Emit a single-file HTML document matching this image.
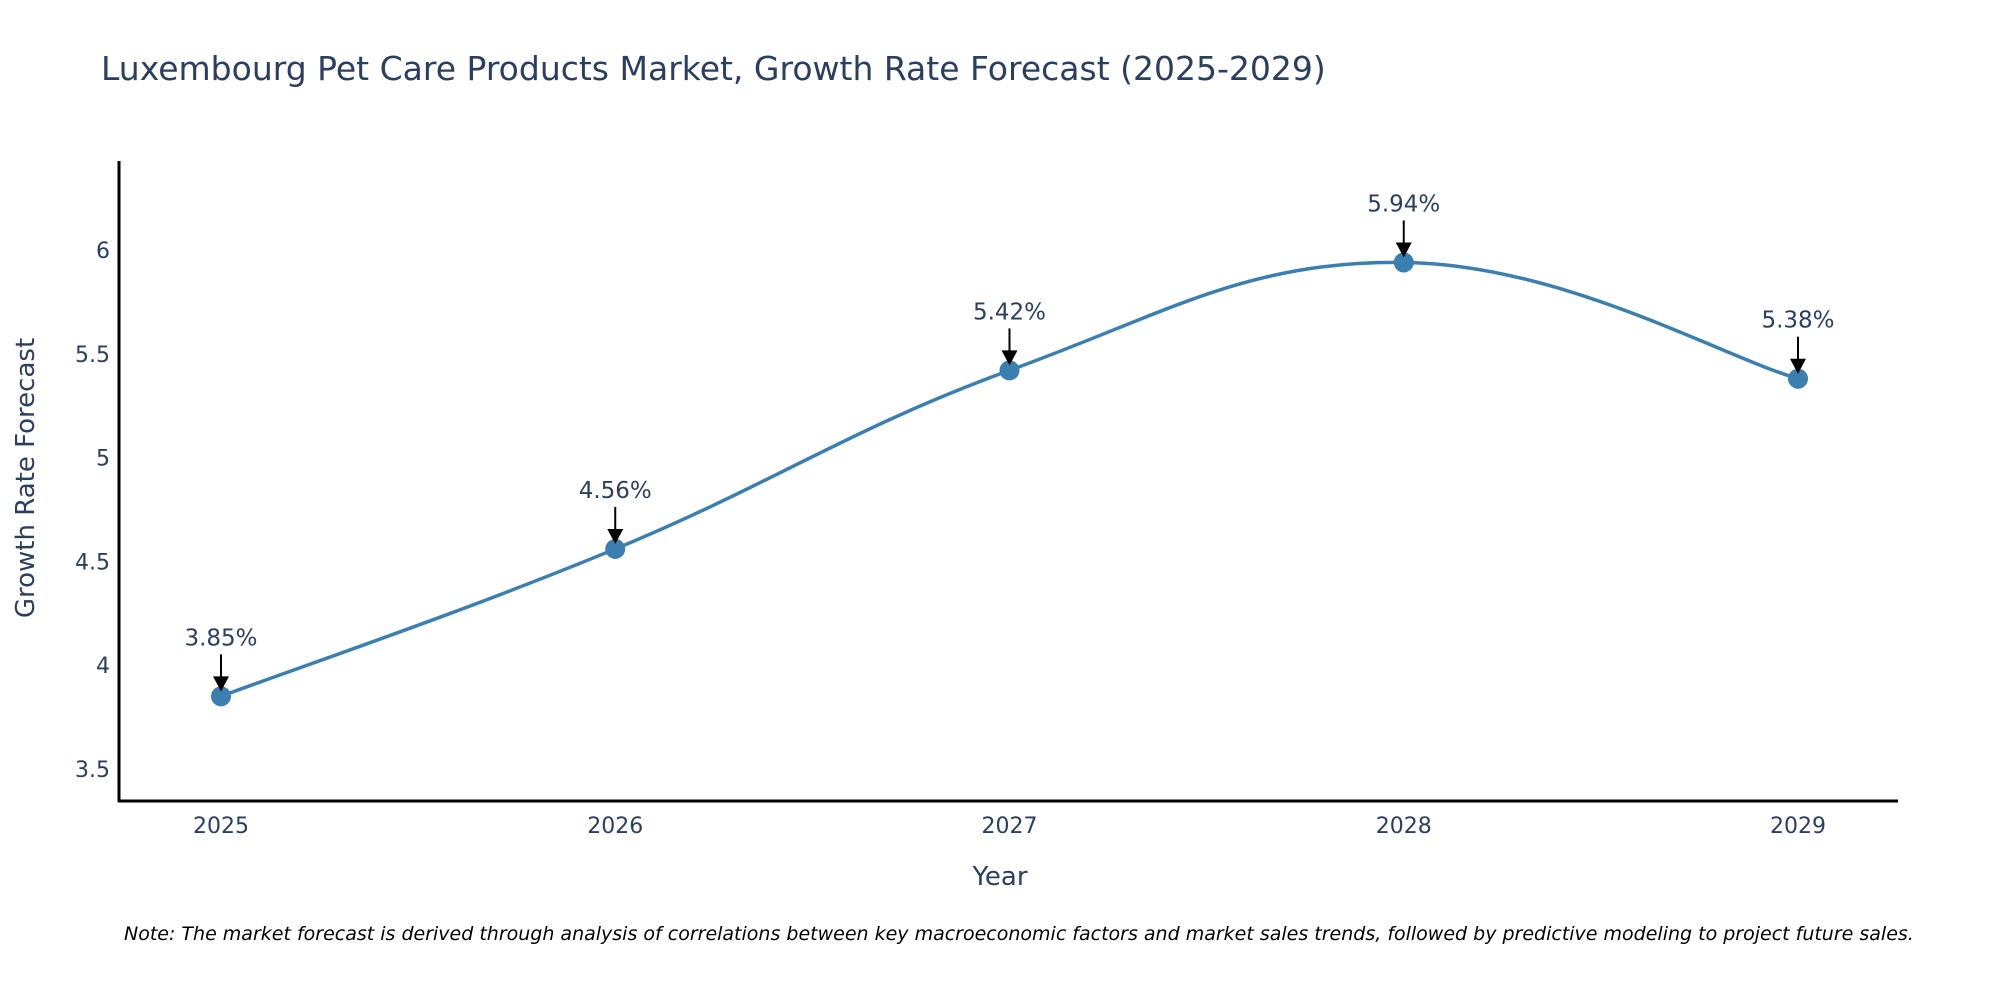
<!DOCTYPE html>
<html><head><meta charset="utf-8"><style>
body{margin:0;background:#fff;}
svg text{font-family:"DejaVu Sans","Liberation Sans",sans-serif;fill:#2a3f5f;}
</style></head><body>
<svg id="chart" width="2000" height="1000" xmlns="http://www.w3.org/2000/svg">
<text x="101" y="80" font-size="33">Luxembourg Pet Care Products Market, Growth Rate Forecast (2025-2029)</text>
<g id="plot"></g>
<text x="1000" y="885" font-size="26" text-anchor="middle">Year</text>
<text transform="translate(34,478) rotate(-90)" font-size="26" text-anchor="middle">Growth Rate Forecast</text>
<text x="124" y="940" font-size="19" font-style="italic" style="fill:#000">Note: The market forecast is derived through analysis of correlations between key macroeconomic factors and market sales trends, followed by predictive modeling to project future sales.</text>
</svg>
<script>
const years=[2025,2026,2027,2028,2029];
const rates=[3.85,4.56,5.42,5.94,5.38];
const yTicks=[3.5,4,4.5,5,5.5,6];
const NS="http://www.w3.org/2000/svg";
const g=document.getElementById('plot');
function xs(v){return 221+(v-2025)*(1798-221)/4;}
function ys(v){return 769-(v-3.5)*(769-250)/2.5;}
function mk(t,a){const e=document.createElementNS(NS,t);for(const k in a)e.setAttribute(k,a[k]);g.appendChild(e);return e;}
let ax=mk('line',{x1:119,y1:161,x2:119,y2:802,stroke:'#000','stroke-width':3});


let bx=mk('line',{x1:118,y1:801,x2:1898,y2:801,stroke:'#000','stroke-width':3});


yTicks.forEach(t=>{const e=mk('text',{x:110,y:ys(t)+8,'font-size':22,'text-anchor':'end'});e.textContent=t;

});
years.forEach(t=>{const e=mk('text',{x:xs(t),y:833,'font-size':22,'text-anchor':'middle'});e.textContent=t;

});
const P=years.map((y,i)=>[xs(y),ys(rates[i])]);
let d='M'+P[0][0]+','+P[0][1];const s=0.2;
for(let i=0;i<P.length-1;i++){const p0=P[Math.max(i-1,0)],p1=P[i],p2=P[i+1],p3=P[Math.min(i+2,P.length-1)];
const c1=[p1[0]+(p2[0]-p0[0])*s,p1[1]+(p2[1]-p0[1])*s],c2=[p2[0]-(p3[0]-p1[0])*s,p2[1]-(p3[1]-p1[1])*s];
d+=' C'+c1+' '+c2+' '+p2;}
const line=mk('path',{d:d,fill:'none',stroke:'#3b7fb0','stroke-width':3.5});


P.forEach((p,i)=>{
const c=mk('circle',{cx:p[0],cy:p[1],r:10,fill:'#3b7fb0'});


const a=mk('line',{x1:p[0],y1:p[1]-42,x2:p[0],y2:p[1]-18,stroke:'#000','stroke-width':2});


const h=mk('polygon',{points:(p[0]-8)+','+(p[1]-20)+' '+(p[0]+8)+','+(p[1]-20)+' '+p[0]+','+(p[1]-5),fill:'#000'});


const t=mk('text',{x:p[0],y:p[1]-51,'font-size':23,'text-anchor':'middle'});t.textContent=rates[i].toFixed(2)+'%';


});
</script>
</body></html>
